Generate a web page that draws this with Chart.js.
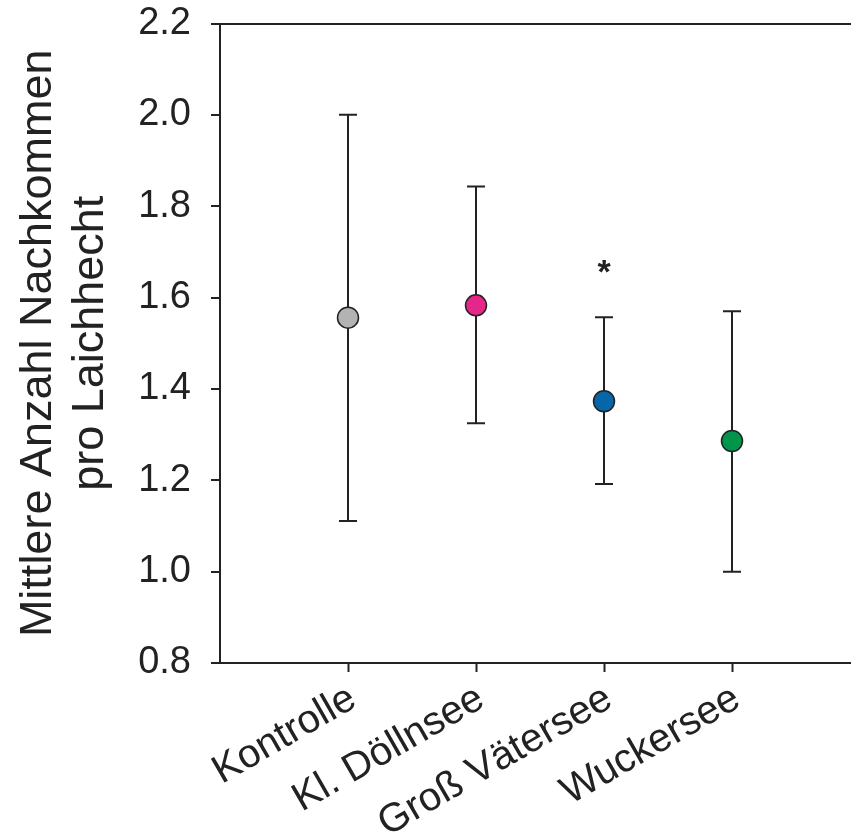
<!DOCTYPE html>
<html>
<head>
<meta charset="utf-8">
<title>Nachkommen pro Laichhecht</title>
<script src="https://cdn.jsdelivr.net/npm/chart.js@4"></script>
<style>
  html, body { margin: 0; padding: 0; background: #fff; }
  #wrap { width: 851px; height: 837px; }
</style>
</head>
<body>
<div id="wrap"><canvas id="offspring" width="851" height="837"></canvas></div>
<script>
// mean offspring per spawner, with error range, per lake
const groups = ['Kontrolle', 'Kl. Döllnsee', 'Groß Vätersee', 'Wuckersee'];
const means = [1.556, 1.583, 1.373, 1.286];
const lower = [1.111, 1.325, 1.192, 1.0];
const upper = [2.0, 1.843, 1.557, 1.570];
const signif = ['', '', '*', ''];
const yTicks = [0.8, 1.0, 1.2, 1.4, 1.6, 1.8, 2.0, 2.2];
const dotColors = ['#b3b3b3', '#e6278a', '#0765a9', '#00954a'];

const FONT = 'Arial, "Liberation Sans", sans-serif';
const INK = '#222';

// whiskers go under the dots, the significance star on top
const errorBars = {
    id: 'errorBars',
    beforeDatasetsDraw(chart) {
        const { ctx, scales: { x, y } } = chart;
        ctx.save();
        ctx.strokeStyle = INK; ctx.lineWidth = 2;
        groups.forEach((g, i) => {
            const px = Math.round(x.getPixelForValue(i + 1));
            const top = y.getPixelForValue(upper[i]), bot = y.getPixelForValue(lower[i]);
            ctx.beginPath();
            ctx.moveTo(px, top); ctx.lineTo(px, bot);
            ctx.moveTo(px - 9, top); ctx.lineTo(px + 9, top);
            ctx.moveTo(px - 9, bot); ctx.lineTo(px + 9, bot);
            ctx.stroke();
        });
        ctx.restore();
    },
    afterDatasetsDraw(chart) {
        const { ctx, scales: { x, y } } = chart;
        ctx.save();
        ctx.fillStyle = INK; ctx.font = 'bold 34px ' + FONT;
        ctx.textAlign = 'center'; ctx.textBaseline = 'alphabetic';
        signif.forEach((s, i) => {
            if (!s) return;
            ctx.fillText(s, x.getPixelForValue(i + 1), y.getPixelForValue(upper[i]) - 34);
        });
        ctx.restore();
    }
};

new Chart(document.getElementById('offspring'), {
    type: 'scatter',
    data: {
        datasets: [{
            data: groups.map((g, i) => ({ x: i + 1, y: means[i] })),
            backgroundColor: dotColors,
            borderColor: INK,
            borderWidth: 1.5,
            pointRadius: 10.5,
            pointHoverRadius: 10.5
        }]
    },
    options: {
        responsive: false,
        animation: false,
        events: [],
        layout: { padding: 0, autoPadding: false },
        plugins: { legend: { display: false }, tooltip: { enabled: false } },
        scales: {
            x: {
                type: 'linear',
                min: 0,
                max: 631 / 128,
                afterBuildTicks: s => { s.ticks = groups.map((g, i) => ({ value: i + 1 })); },
                afterFit: s => { s.height = 174; s.paddingLeft = 0; s.paddingRight = 0; },
                ticks: {
                    callback: v => groups[v - 1] || '',
                    minRotation: 30, maxRotation: 30,
                    padding: 3,
                    labelOffset: 5,
                    color: INK,
                    font: { family: FONT, size: 40 }
                },
                grid: { drawOnChartArea: false, tickLength: 9, tickColor: INK, tickWidth: 2 },
                border: { display: true, color: INK, width: 2 }
            },
            y: {
                min: 0.8,
                max: 2.2,
                afterBuildTicks: s => { s.ticks = yTicks.map(v => ({ value: v })); },
                afterFit: s => { s.width = 220; s.paddingTop = 23.5; s.paddingBottom = 0; },
                ticks: {
                    callback: v => v.toFixed(1),
                    padding: 20,
                    color: INK,
                    font: { family: FONT, size: 38 }
                },
                grid: {
                    // only the top edge of the frame is drawn across the plot
                    color: c => (c.tick && c.tick.value >= 2.2 - 1e-9) ? INK : 'rgba(0,0,0,0)',
                    lineWidth: 2,
                    tickLength: 9, tickColor: INK, tickWidth: 2
                },
                border: { display: true, color: INK, width: 2 },
                title: {
                    display: true,
                    text: ['Mittlere Anzahl Nachkommen', 'pro Laichhecht'],
                    color: INK,
                    padding: { top: 13, bottom: 0 },
                    font: { family: FONT, size: 45, lineHeight: 1.15 }
                }
            }
        }
    },
    plugins: [errorBars]
});
</script>
</body>
</html>
